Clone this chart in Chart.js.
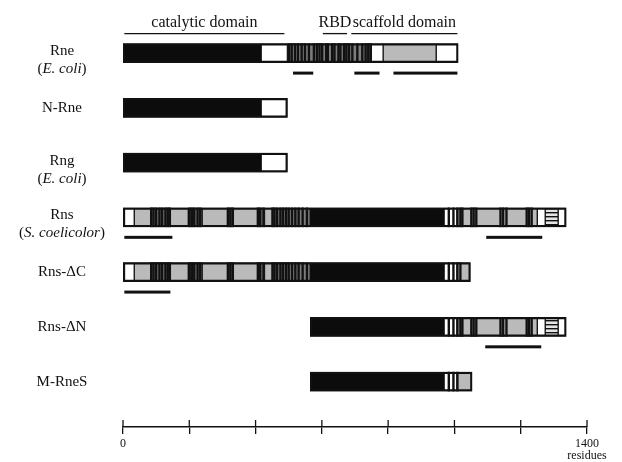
<!DOCTYPE html>
<html>
<head>
<meta charset="utf-8">
<script src="https://cdn.jsdelivr.net/npm/chart.js@4.4.1/dist/chart.umd.min.js"></script>
<style>
  html, body { margin: 0; padding: 0; background: #fff; }
</style>
</head>
<body>
<canvas id="domainChart" width="622" height="462"></canvas>
<script>
// proteins, top to bottom
const rows = ["Rne", "N-Rne", "Rng", "Rns", "Rns-\u0394C", "Rns-\u0394N", "M-RneS"];
const species = ["E. coli", "", "E. coli", "S. coelicolor", "", "", ""];

// segments in residues: [start, end, kind]
// k = black, w = white, g = grey, s = striped grey, h = hatched
const rnsLeft = [[1, 34, "w"], [34, 84, "g"], [84, 143, "s"], [143, 197, "g"], [197, 239, "s"], [239, 315, "g"],
  [315, 333, "s"], [333, 406, "g"], [406, 427, "s"], [427, 451, "g"], [451, 565, "s"]];
const rnsRight = [[565, 969, "k"], [969, 1008, "w"], [1008, 1250, "g"], [1250, 1274, "w"], [1274, 1313, "h"], [1313, 1337, "w"]];
const segments = [
  [[1, 417, "k"], [417, 496, "w"], [496, 749, "s"], [749, 785, "w"], [785, 945, "g"], [945, 1011, "w"]],
  [[1, 417, "k"], [417, 496, "w"]],
  [[1, 417, "k"], [417, 496, "w"]],
  rnsLeft.concat(rnsRight),
  rnsLeft.concat([[565, 969, "k"], [969, 1008, "w"], [1008, 1048, "g"]]),
  rnsRight,
  [[565, 969, "k"], [969, 1008, "w"], [1008, 1053, "g"]]
];

// thin dark bands inside the striped parts (residue positions)
const rneStripes = [501, 509, 519, 528, 539, 549, 561, 576, 585, 593, 601, 613, 618, 631, 638, 650, 656, 667, 674, 682, 692, 707, 722, 732, 740, 747];
const rnsLeftStripes = [85, 92, 100, 110, 118, 128, 135, 141, 201, 208, 215, 225, 233, 317, 324, 331, 407, 414, 424,
  451, 457, 465, 475, 483, 492, 500, 510, 520, 530, 542, 555];
const rnsRightStripes = [983, 997, 1009, 1018, 1024, 1051, 1058, 1066, 1139, 1147, 1157, 1218, 1225, 1233];
const stripes = [
  rneStripes, [], [],
  rnsLeftStripes.concat(rnsRightStripes),
  rnsLeftStripes.concat([983, 997, 1009, 1018]),
  rnsRightStripes,
  [983, 997, 1009]
];

// fragments marked under the bars
const underlines = [
  [[513, 574], [698, 774], [816, 1009]],
  [], [],
  [[4, 149], [1096, 1265]],
  [[4, 143]],
  [[1093, 1262]],
  []
];

// domains over Rne
const domainNames = ["catalytic domain", "RBD", "scaffold domain"];
const domainStart = [4, 603, 689];
const domainEnd = [487, 676, 1009];

const serif = "'Liberation Serif', 'Times New Roman', serif";

function hatch() {
  const c = document.createElement("canvas");
  c.width = 4; c.height = 4;
  const g = c.getContext("2d");
  g.fillStyle = "#e4e4e4"; g.fillRect(0, 0, 4, 4);
  g.fillStyle = "#111"; g.fillRect(0, 0, 4, 1.4);
  return g.createPattern(c, "repeat");
}

const fills = { k: "#0c0c0c", w: "#ffffff", g: "#bababa", s: "#7d7d7d", h: hatch() };

const datasets = [];
datasets.push({
  data: rows.map((r, i) => ({ x: [segments[i][0][0], segments[i][segments[i].length - 1][1]], y: i })),
  backgroundColor: "rgba(0,0,0,0)", borderColor: "#111", borderWidth: 1.5
});
datasets.push({
  data: stripes.flatMap((list, i) => list.map(p => ({ x: [p - 2.6, p + 2.6], y: i }))),
  backgroundColor: "#111", borderWidth: 0
});
["h", "g", "s", "w", "k"].forEach(kind => {
  datasets.push({
    data: segments.flatMap((list, i) => list.filter(s => s[2] === kind).map(s => ({ x: [s[0], s[1]], y: i }))),
    backgroundColor: fills[kind], borderColor: "#111", borderWidth: 1
  });
});
datasets.forEach(d => { d.barThickness = 19; d.grouped = false; d.borderSkipped = false; });

const annotate = {
  id: "annotate",
  afterDraw(chart) {
    const { ctx, scales: { x, y } } = chart;
    ctx.save();
    ctx.fillStyle = "#111";
    ctx.strokeStyle = "#111";

    underlines.forEach((list, i) => list.forEach(([s, e]) => {
      const yy = y.getPixelForValue(i) + 20;
      ctx.fillRect(x.getPixelForValue(s), yy - 1.5, x.getPixelForValue(e) - x.getPixelForValue(s), 3);
    }));

    const top = y.getPixelForValue(0) - 19.5;
    ctx.font = "16px " + serif;
    ctx.textAlign = "center";
    ctx.textBaseline = "alphabetic";
    ctx.lineWidth = 1.3;
    domainNames.forEach((name, i) => {
      const a = x.getPixelForValue(domainStart[i]), b = x.getPixelForValue(domainEnd[i]);
      ctx.beginPath(); ctx.moveTo(a, top); ctx.lineTo(b, top); ctx.stroke();
      ctx.fillText(name, (a + b) / 2, top - 7);
    });

    const cx = 62;
    rows.forEach((name, i) => {
      const py = y.getPixelForValue(i);
      ctx.font = "15px " + serif;
      ctx.textAlign = "center";
      if (!species[i]) { ctx.fillText(name, cx, py + 4); return; }
      ctx.fillText(name, cx, py + 2);
      const italic = "italic 15px " + serif, plain = "15px " + serif;
      ctx.font = plain; const wp = ctx.measureText("(").width;
      ctx.font = italic; const wi = ctx.measureText(species[i]).width;
      let left = cx - (2 * wp + wi) / 2;
      ctx.textAlign = "left";
      ctx.font = plain; ctx.fillText("(", left, py + 20);
      ctx.font = italic; ctx.fillText(species[i], left + wp, py + 20);
      ctx.font = plain; ctx.fillText(")", left + wp + wi, py + 20);
    });

    const axisY = chart.chartArea.bottom;
    ctx.lineWidth = 1.3;
    x.ticks.forEach(t => {
      const px = x.getPixelForValue(t.value);
      ctx.beginPath(); ctx.moveTo(px, axisY - 7); ctx.lineTo(px, axisY); ctx.stroke();
    });
    ctx.restore();
  }
};

new Chart(document.getElementById("domainChart").getContext("2d"), {
  type: "bar",
  data: { datasets },
  options: {
    indexAxis: "y",
    responsive: false,
    animation: false,
    layout: { padding: { left: 123, right: 35, top: 0, bottom: 0 } },
    plugins: { legend: { display: false }, tooltip: { enabled: false } },
    scales: {
      x: {
        type: "linear", min: 0, max: 1400,
        afterFit: s => { s.height = 35; },
        border: { display: true, color: "#111", width: 1.6 },
        grid: { drawOnChartArea: false, drawTicks: true, tickLength: 7, color: "#111", lineWidth: 1.3 },
        ticks: {
          stepSize: 200, padding: 4, color: "#111", maxRotation: 0, autoSkip: false,
          font: { family: serif, size: 12, lineHeight: 1 },
          callback: v => v === 0 ? "0" : v === 1400 ? ["1400", "residues"] : ""
        }
      },
      y: { type: "linear", reverse: true, offset: false, min: -0.97, max: 6.83, display: false }
    }
  },
  plugins: [annotate]
});
</script>
</body>
</html>
